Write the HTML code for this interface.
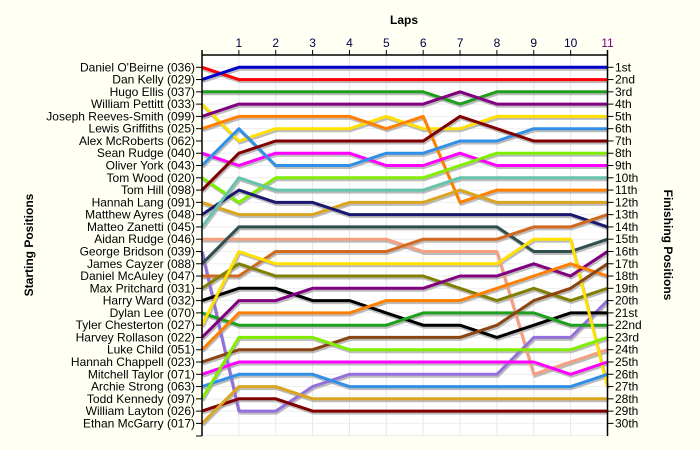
<!DOCTYPE html>
<html><head><meta charset="utf-8"><style>
html,body{margin:0;padding:0;background:#fffff4;}
svg{display:block;font-family:"Liberation Sans",sans-serif;}
</style></head><body>
<svg id="chart" width="700" height="450" viewBox="0 0 700 450">
<rect x="0" y="0" width="700" height="450" fill="#fffff4"/>
<rect x="202" y="55" width="406" height="381" fill="#ffffff"/>
<g id="grid"></g>
<g id="shadows"></g>
<g id="lines"></g>
<g id="axes"></g>
<text x="404" y="24" text-anchor="middle" font-size="12" font-weight="bold">Laps</text>
<text transform="translate(33,245) rotate(-90)" text-anchor="middle" font-size="12" font-weight="bold">Starting Positions</text>
<text transform="translate(664,245) rotate(90)" text-anchor="middle" font-size="12" font-weight="bold">Finishing Positions</text>
</svg>
<script>
const laps = [0,1,2,3,4,5,6,7,8,9,10,11];
const lapLabels = ["1","2","3","4","5","6","7","8","9","10","11"];
const drivers = ["Daniel O'Beirne (036)","Dan Kelly (029)","Hugo Ellis (037)","William Pettitt (033)","Joseph Reeves-Smith (099)","Lewis Griffiths (025)","Alex McRoberts (062)","Sean Rudge (040)","Oliver York (043)","Tom Wood (020)","Tom Hill (098)","Hannah Lang (091)","Matthew Ayres (048)","Matteo Zanetti (045)","Aidan Rudge (046)","George Bridson (039)","James Cayzer (088)","Daniel McAuley (047)","Max Pritchard (031)","Harry Ward (032)","Dylan Lee (070)","Tyler Chesterton (027)","Harvey Rollason (022)","Luke Child (051)","Hannah Chappell (023)","Mitchell Taylor (071)","Archie Strong (063)","Todd Kennedy (097)","William Layton (026)","Ethan McGarry (017)"];
const finishLabels = ["1st","2nd","3rd","4th","5th","6th","7th","8th","9th","10th","11th","12th","13th","14th","15th","16th","17th","18th","19th","20th","21st","22nd","23rd","24th","25th","26th","27th","28th","29th","30th"];
const seriesColors = ["#ff0000","#0000cc","#1ea01e","#ffe000","#800080","#ff8000","#ff00ff","#3090e8","#80ee00","#800000","#daa520","#191970","#66c4ac","#f4a080","#9370db","#2f4f4f","#d2691e","#808000","#000000","#1ea01e","#ffe000","#800080","#ff8000","#8b4513","#ff00ff","#3090e8","#80ee00","#800000","#daa520"];
const s1 = [1,2,2,2,2,2,2,2,2,2,2,2];
const s2 = [2,1,1,1,1,1,1,1,1,1,1,1];
const s3 = [3,3,3,3,3,3,3,4,3,3,3,3];
const s4 = [4,7,6,6,6,5,6,6,5,5,5,5];
const s5 = [5,4,4,4,4,4,4,3,4,4,4,4];
const s6 = [6,5,5,5,5,6,5,12,11,11,11,11];
const s8 = [8,9,8,8,8,9,9,8,9,9,9,9];
const s9 = [9,6,9,9,9,8,8,7,7,6,6,6];
const s10 = [10,12,10,10,10,10,10,9,8,8,8,8];
const s11 = [11,8,7,7,7,7,7,5,6,7,7,7];
const s12 = [12,13,13,13,12,12,12,11,12,12,12,12];
const s13 = [13,11,12,12,13,13,13,13,13,13,13,14];
const s14 = [14,10,11,11,11,11,11,10,10,10,10,10];
const s15 = [15,15,15,15,15,15,16,16,16,26,25,24];
const s16 = [16,29,29,27,26,26,26,26,26,23,23,20];
const s17 = [17,14,14,14,14,14,14,14,14,16,16,15];
const s18 = [18,18,16,16,16,16,15,15,15,14,14,13];
const s19 = [19,17,18,18,18,18,18,19,20,19,20,19];
const s20 = [20,19,19,20,20,21,22,22,23,22,21,21];
const s21 = [21,22,22,22,22,22,21,21,21,21,22,22];
const s22 = [22,16,17,17,17,17,17,17,17,15,15,27];
const s23 = [23,20,20,19,19,19,19,18,18,17,18,16];
const s24 = [24,21,21,21,21,20,20,20,19,18,17,18];
const s25 = [25,24,24,24,23,23,23,23,22,20,19,17];
const s26 = [26,25,25,25,25,25,25,25,25,25,26,25];
const s27 = [27,26,26,26,27,27,27,27,27,27,27,26];
const s28 = [28,23,23,23,24,24,24,24,24,24,24,23];
const s29 = [29,28,28,29,29,29,29,29,29,29,29,29];
const s30 = [30,27,27,28,28,28,28,28,28,28,28,28];
const series = [s1,s2,s3,s4,s5,s6,s8,s9,s10,s11,s12,s13,s14,s15,s16,s17,s18,s19,s20,s21,s22,s23,s24,s25,s26,s27,s28,s29,s30];

const NS = "http://www.w3.org/2000/svg";
const X0 = 202, X1 = 607.5, Y0 = 55, STEP = 12.28;
function xScale(lap){ return X0 + (X1 - X0) * lap / 11; }
function yScale(pos){ return Y0 + pos * STEP; }
function mk(tag, attrs, parent){ const e = document.createElementNS(NS, tag); for (const k in attrs) e.setAttribute(k, attrs[k]); parent.appendChild(e); return e; }

const grid = document.getElementById('grid');
laps.forEach(l => {
  if (l === 0) return;
  const g = mk('line', {x1:xScale(l), x2:xScale(l), y1:Y0, y2:436, stroke:'#e6e6e6', 'stroke-width':1}, grid);
  
  
});
for (let p = 1; p <= 31; p++) {
  const g = mk('line', {x1:X0, x2:X1, y1:yScale(p), y2:yScale(p), stroke:'#eeeeee', 'stroke-width':1}, grid);
  
  
}

const shadows = document.getElementById('shadows');
const lines = document.getElementById('lines');
series.forEach((s, i) => {
  const pts = s.map((v, j) => xScale(laps[j]).toFixed(1) + ',' + yScale(v).toFixed(1)).join(' ');
  const spts = s.map((v, j) => (xScale(laps[j]) + 1).toFixed(1) + ',' + (yScale(v) + 2).toFixed(1)).join(' ');
  const sh = mk('polyline', {points:spts, fill:'none', stroke:'#a0a0a0', 'stroke-width':3, 'stroke-opacity':0.7, 'stroke-linejoin':'round'}, shadows);
  
  
  const pl = mk('polyline', {points:pts, fill:'none', stroke:seriesColors[i], 'stroke-width':3, 'stroke-linejoin':'round'}, lines);
  
  
});

const axes = document.getElementById('axes');
mk('line', {x1:X0, x2:X1, y1:Y0, y2:Y0, stroke:'#000', 'stroke-width':1.5}, axes);
mk('line', {x1:X0, x2:X0, y1:Y0-5, y2:436, stroke:'#000', 'stroke-width':1.5}, axes);
mk('line', {x1:X1, x2:X1, y1:Y0-5, y2:436, stroke:'#000', 'stroke-width':1.5}, axes);
mk('line', {x1:X0-6, x2:X0, y1:436, y2:436, stroke:'#000', 'stroke-width':1}, axes);
lapLabels.forEach((t, i) => {
  const x = xScale(i + 1);
  mk('line', {x1:x, x2:x, y1:Y0-5, y2:Y0, stroke:'#000', 'stroke-width':1}, axes);
  const tx = mk('text', {x:x, y:47, 'text-anchor':'middle', 'font-size':12, fill: i === 10 ? '#800080' : '#000040'}, axes);
  tx.textContent = t;
  
  
});
drivers.forEach((d, i) => {
  const y = yScale(i + 1);
  mk('line', {x1:X0-6, x2:X0, y1:y, y2:y, stroke:'#000', 'stroke-width':1}, axes);
  const tx = mk('text', {x:195, y:y + 4, 'text-anchor':'end', 'font-size':12, fill:'#000'}, axes);
  tx.textContent = d;
  
  
});
finishLabels.forEach((f, i) => {
  const y = yScale(i + 1);
  mk('line', {x1:X1, x2:X1 + 6, y1:y, y2:y, stroke:'#000', 'stroke-width':1}, axes);
  const tx = mk('text', {x:615, y:y + 4, 'text-anchor':'start', 'font-size':12, fill:'#000'}, axes);
  tx.textContent = f;
  
  
});
</script>
</body></html>
